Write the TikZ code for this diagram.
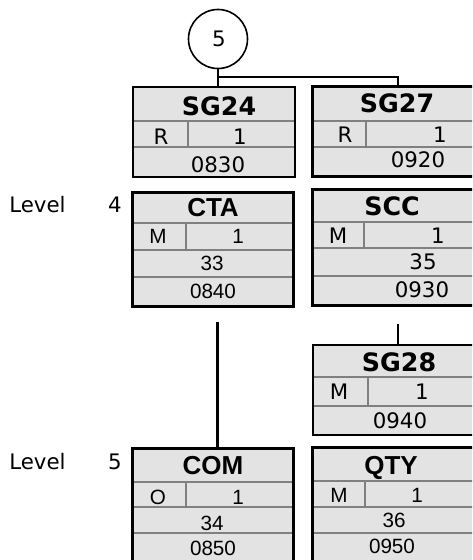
\documentclass[tikz,border=0pt]{standalone}
\usepackage{fontspec}
\newfontfamily\vfont{DejaVu Sans}
\newfontfamily\afont{Liberation Sans}
\definecolor{boxfill}{HTML}{E3E3E3}
\definecolor{sepgray}{HTML}{808080}
\tikzset{
  box/.style={fill=boxfill, draw=none, inner sep=0pt, outer sep=0pt, anchor=north west},
  thinborder/.style={draw=black, line width=1.5pt},
  thickborder/.style={draw=black, line width=2.25pt},
  sep/.style={draw=sepgray, line width=1.5pt},
  vtxt/.style={font=\vfont\fontsize{16}{18}\selectfont, anchor=base, inner sep=0pt},
  vbold/.style={font=\vfont\bfseries\fontsize{19}{22}\selectfont, anchor=base, inner sep=0pt},
  atxt/.style={font=\afont\fontsize{15.5}{18}\selectfont, anchor=base, inner sep=0pt},
  abold/.style={font=\afont\bfseries\fontsize{19.5}{22}\selectfont, anchor=base, inner sep=0pt},
  conn/.style={draw=black, line width=1.5pt},
  thickconn/.style={draw=black, line width=2.25pt}
}
\begin{document}
\begin{tikzpicture}[x=0.75pt,y=-0.75pt]
\useasboundingbox (0,0) rectangle (472,560);
\clip (0,0) rectangle (472,560);
% circle
\node[circle, draw=black, line width=1.2pt, minimum size={59*0.75pt}, inner sep=0pt] (c5) at (218,39) {};
\node[vtxt] (c5t) at (219,47) {5};

% ---------- SG24
\node[box, minimum width={162*0.75pt}, minimum height={90*0.75pt}] (sg24) at (133,87) {};
\draw[sep] (133,121) -- (295,121) (133,147) -- (295,147) (188,121) -- (188,147);
\draw[thinborder] (sg24.north west) rectangle (sg24.south east);
\node[vbold] (sg24h) at (219,115) {SG24};
\node[vtxt] (sg24s) at (161,144) {R};
\node[vtxt] (sg24r) at (240,144) {1};
\node[vtxt] (sg24p) at (218,172) {0830};

% ---------- SG27
\node[box, minimum width={162*0.75pt}, minimum height={89*0.75pt}] (sg27) at (312,87) {};
\draw[sep] (312,121) -- (474,121) (312,147) -- (474,147) (366,121) -- (366,147);
\draw[thickborder] (sg27.north west) rectangle (sg27.south east);
\node[vbold] (sg27h) at (397,113) {SG27};
\node[vtxt] (sg27s) at (345,142) {R};
\node[vtxt] (sg27r) at (440,142) {1};
\node[vtxt] (sg27p) at (418,167) {0920};

% ---------- CTA
\node[box, minimum width={161*0.75pt}, minimum height={114*0.75pt}] (cta) at (132,192) {};
\draw[sep] (132,223) -- (293,223) (132,250) -- (293,250) (132,277) -- (293,277) (186,223) -- (186,250);
\draw[thickborder] (cta.north west) rectangle (cta.south east);
\node[abold] (ctah) at (213,216) {CTA};
\node[atxt] (ctas) at (158,243) {M};
\node[atxt] (ctar) at (238,243) {1};
\node[atxt] (ctan) at (212,270) {33};
\node[atxt] (ctap) at (213,298) {0840};

% ---------- SCC
\node[box, minimum width={162*0.75pt}, minimum height={116*0.75pt}] (scc) at (312,189) {};
\draw[sep] (312,222) -- (474,222) (312,248) -- (474,248) (312,276) -- (474,276) (364,222) -- (364,248);
\draw[thickborder] (scc.north west) rectangle (scc.south east);
\node[vbold] (scch) at (392,215) {SCC};
\node[vtxt] (sccs) at (338,243) {M};
\node[vtxt] (sccr) at (438,243) {1};
\node[vtxt] (sccn) at (423,269) {35};
\node[vtxt] (sccp) at (422,297) {0930};

% ---------- SG28
\node[box, minimum width={162*0.75pt}, minimum height={90*0.75pt}] (sg28) at (313,345) {};
\draw[sep] (313,377) -- (475,377) (313,406) -- (475,406) (368,377) -- (368,406);
\draw[thinborder] (sg28.north west) rectangle (sg28.south east);
\node[vbold] (sg28h) at (399,371) {SG28};
\node[vtxt] (sg28s) at (339,399) {M};
\node[vtxt] (sg28r) at (422,399) {1};
\node[vtxt] (sg28p) at (400,428) {0940};

% ---------- COM
\node[box, minimum width={161*0.75pt}, minimum height={114*0.75pt}] (com) at (132,448) {};
\draw[sep] (132,482) -- (293,482) (132,507) -- (293,507) (132,533) -- (293,533) (186,482) -- (186,507);
\draw[thickborder] (com.north west) rectangle (com.south east);
\node[abold] (comh) at (213,474) {COM};
\node[atxt] (coms) at (158,504) {O};
\node[atxt] (comr) at (238,504) {1};
\node[atxt] (comn) at (212,530) {34};
\node[atxt] (comp) at (213,555) {0850};

% ---------- QTY
\node[box, minimum width={162*0.75pt}, minimum height={114*0.75pt}] (qty) at (312,447) {};
\draw[sep] (312,481) -- (474,481) (312,507) -- (474,507) (312,533) -- (474,533) (365,481) -- (365,507);
\draw[thickborder] (qty.north west) rectangle (qty.south east);
\node[abold] (qtyh) at (391,474) {QTY};
\node[atxt] (qtys) at (339,502) {M};
\node[atxt] (qtyr) at (417,502) {1};
\node[atxt] (qtyn) at (394,527) {36};
\node[atxt] (qtyp) at (392,553) {0950};

% ---------- level labels
\node[vtxt, anchor=base west] (lv4) at (9,212) {Level};
\node[vtxt] (lv4n) at (115,212) {4};
\node[vtxt, anchor=base west] (lv5) at (9,469) {Level};
\node[vtxt] (lv5n) at (115,469) {5};

% ---------- connectors
\coordinate (j) at (218,77);
\coordinate (t27) at (398,87);
\coordinate (s1) at (217,322);
\coordinate (s2) at (398,324);
\draw[conn] (c5.south) -- (c5.south |- sg24.north);
\draw[conn] (j) -| (t27);
\draw[thickconn] (s1) -- (s1 |- com.north);
\draw[conn] (s2) -- (s2 |- sg28.north);
\end{tikzpicture}
\end{document}
